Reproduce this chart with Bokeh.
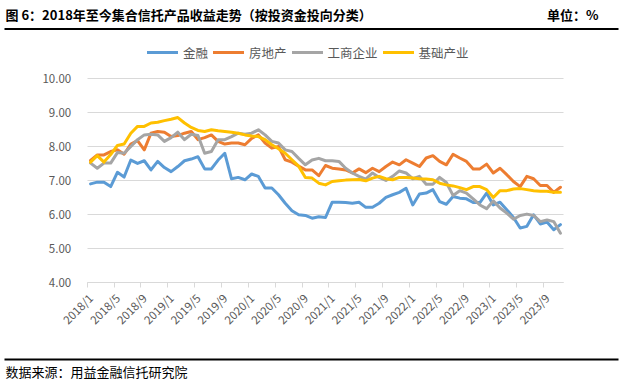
import math
from bokeh.plotting import figure
from bokeh.models import (FixedTicker, Legend, LegendItem, NumeralTickFormatter,
                          Range1d, ColumnDataSource, Label, BoxAnnotation)
from bokeh.embed import file_html
from bokeh.resources import INLINE

# ---- data ----
months = [f"{y}/{m}" for y in range(2018, 2024) for m in range(1, 13)][:71]

finance = [6.91, 6.96, 6.96, 6.83, 7.25, 7.11, 7.61, 7.51, 7.59, 7.32,
           7.57, 7.39, 7.27, 7.42, 7.59, 7.64, 7.71, 7.35, 7.35, 7.61,
           7.81, 7.06, 7.10, 7.03, 7.20, 7.13, 6.79, 6.79, 6.59, 6.34,
           6.12, 6.00, 5.98, 5.90, 5.94, 5.92, 6.37, 6.37, 6.36, 6.34,
           6.37, 6.22, 6.22, 6.34, 6.51, 6.59, 6.66, 6.78, 6.29, 6.61,
           6.64, 6.74, 6.39, 6.31, 6.54, 6.49, 6.47, 6.36, 6.36, 6.64,
           6.29, 6.37, 6.15, 5.92, 5.61, 5.66, 6.00, 5.73, 5.79, 5.56,
           5.71]

real_estate = [7.60, 7.76, 7.76, 7.86, 7.91, 7.78, 8.08, 8.18, 7.91, 8.40,
               8.45, 8.43, 8.30, 8.33, 8.40, 8.45, 8.21, 8.27, 8.35, 8.16,
               8.08, 8.11, 8.11, 8.06, 8.25, 8.35, 8.11, 7.96, 8.01, 7.62,
               7.55, 7.43, 7.32, 7.32, 7.15, 7.45, 7.37, 7.35, 7.32, 7.23,
               7.35, 7.24, 7.37, 7.27, 7.42, 7.55, 7.47, 7.62, 7.52, 7.42,
               7.67, 7.74, 7.57, 7.47, 7.78, 7.67, 7.57, 7.35, 7.35, 7.49,
               7.23, 7.37, 7.18, 6.98, 6.83, 7.13, 7.06, 6.86, 6.86, 6.66,
               6.81]

industrial = [7.52, 7.37, 7.52, 7.52, 7.83, 7.81, 8.01, 8.21, 8.35, 8.37,
              8.35, 8.16, 8.27, 8.43, 8.21, 8.37, 8.33, 7.81, 7.86, 8.21,
              8.21, 8.30, 8.40, 8.37, 8.40, 8.50, 8.35, 8.16, 8.11, 7.91,
              7.86, 7.66, 7.47, 7.61, 7.66, 7.59, 7.59, 7.57, 7.37, 7.23,
              7.13, 7.05, 7.23, 7.10, 7.01, 7.13, 7.29, 7.23, 7.06, 7.13,
              6.90, 6.90, 7.10, 6.95, 6.57, 6.71, 6.64, 6.47, 6.29, 6.18,
              6.41, 6.20, 6.05, 5.87, 5.98, 6.02, 5.98, 5.80, 5.85, 5.80,
              5.46]

infrastructure = [7.55, 7.74, 7.55, 7.77, 8.04, 8.08, 8.40, 8.60, 8.60, 8.70,
                  8.72, 8.77, 8.81, 8.86, 8.70, 8.57, 8.48, 8.45, 8.50, 8.47,
                  8.45, 8.43, 8.40, 8.35, 8.32, 8.30, 8.21, 8.06, 7.94, 7.81,
                  7.62, 7.43, 7.10, 7.08, 6.93, 6.88, 6.98, 7.00, 7.02, 7.03,
                  7.04, 7.00, 7.08, 7.13, 7.06, 7.03, 7.10, 7.10, 7.08, 7.06,
                  7.05, 7.03, 6.93, 6.88, 6.85, 6.80, 6.74, 6.83, 6.83, 6.74,
                  6.51, 6.71, 6.71, 6.76, 6.77, 6.74, 6.71, 6.69, 6.69, 6.66,
                  6.66]

series_names = ["金融", "房地产", "工商企业", "基础产业"]
series_values = [finance, real_estate, industrial, infrastructure]
series_colors = ["#5B9BD5", "#ED7D31", "#A5A5A5", "#FFC000"]

y_ticks = [4, 5, 6, 7, 8, 9, 10]

title_text = "图 6：2018年至今集合信托产品收益走势（按投资金投向分类）"
unit_text = "单位：%"
source_text = "数据来源：用益金融信托研究院"

FONT = "Noto Sans CJK SC"
W, H = 624, 382

# plot area in canvas pixels: x 86.7..563.3, y(top-down) 78.3 (=10) .. 282.3 (=4)
n = len(months)
px_per_x = (563.3 - 86.7) / n
px_per_y = 34.0
x0 = -0.5 - 86.7 / px_per_x
x1 = (n - 0.5) + (W - 563.3) / px_per_x
y0 = 4 - (H - 282.3) / px_per_y
y1 = 10 + 78.3 / px_per_y

p = figure(width=W, height=H, output_backend="svg", toolbar_location=None,
           x_range=Range1d(x0, x1), y_range=Range1d(y0, y1), min_border=0)
p.outline_line_color = None
p.background_fill_color = "white"
p.border_fill_color = "white"

x = list(range(n))
renderers = []
for name, vals, col in zip(series_names, series_values, series_colors):
    src = ColumnDataSource(dict(x=x, y=vals))
    r = p.line("x", "y", source=src, line_color=col, line_width=3,
               line_join="round", line_cap="round")
    renderers.append((name, r))

# y axis drawn at the plot-area edge
p.yaxis.fixed_location = -0.5
p.yaxis.bounds = (4, 10)
p.yaxis.ticker = FixedTicker(ticks=y_ticks)
p.yaxis.formatter = NumeralTickFormatter(format="0.00")
p.yaxis.axis_line_color = None
p.yaxis.major_tick_line_color = None
p.yaxis.minor_tick_line_color = None
p.yaxis.major_label_text_font = FONT
p.yaxis.major_label_text_font_size = "11.5px"
p.yaxis.major_label_text_color = "#595959"
p.yaxis.major_label_standoff = 10
p.ygrid.grid_line_color = "#D9D9D9"
p.ygrid.grid_line_width = 1
p.ygrid.cross_bounds = (-0.5, n - 0.5)
p.xgrid.visible = False

# x axis drawn at y = 4
label_idx = list(range(0, n, 4))
p.xaxis.fixed_location = 4
p.xaxis.bounds = (-0.5, n - 0.5)
p.xaxis.ticker = FixedTicker(ticks=label_idx, minor_ticks=[i - 0.5 for i in label_idx])
p.xaxis.major_label_overrides = {i: months[i] for i in label_idx}
p.xaxis.major_label_orientation = math.pi / 4
p.xaxis.major_tick_in = 0
p.xaxis.major_tick_out = 0
p.xaxis.minor_tick_in = 0
p.xaxis.minor_tick_out = 5
p.xaxis.minor_tick_line_color = "#D9D9D9"
p.xaxis.axis_line_color = "#D9D9D9"
p.xaxis.major_label_text_font = FONT
p.xaxis.major_label_text_font_size = "11.5px"
p.xaxis.major_label_text_color = "#595959"
p.xaxis.major_label_standoff = 8

legend = Legend(items=[LegendItem(label=nm, renderers=[r]) for nm, r in renderers],
                orientation="horizontal", location=(147, 320.5),
                glyph_width=31, glyph_height=16, label_height=16,
                label_standoff=5, spacing=5, padding=0, margin=0,
                border_line_color=None, background_fill_alpha=0,
                label_text_font=FONT, label_text_font_size="12.5px",
                label_text_color="#595959")
p.add_layout(legend)

# header / footer (screen units, origin at bottom-left of canvas)
p.add_layout(Label(x=5, y=368.5, x_units="screen", y_units="screen", text=title_text,
                   text_font=FONT, text_font_size="13px", text_font_style="bold",
                   text_baseline="middle", text_align="left", text_color="black"))
p.add_layout(Label(x=598, y=368.5, x_units="screen", y_units="screen", text=unit_text,
                   text_font=FONT, text_font_size="13px", text_font_style="bold",
                   text_baseline="middle", text_align="right", text_color="black"))
p.add_layout(Label(x=5, y=11, x_units="screen", y_units="screen", text=source_text,
                   text_font=FONT, text_font_size="13px",
                   text_baseline="middle", text_align="left", text_color="black"))
for bot, top in [(352.5, 354.5), (22, 24)]:
    p.add_layout(BoxAnnotation(left=4, right=618, bottom=bot, top=top,
                               left_units="screen", right_units="screen",
                               bottom_units="screen", top_units="screen",
                               fill_color="black", fill_alpha=1, line_color=None))

open("out.html", "w").write(file_html(p, INLINE))
